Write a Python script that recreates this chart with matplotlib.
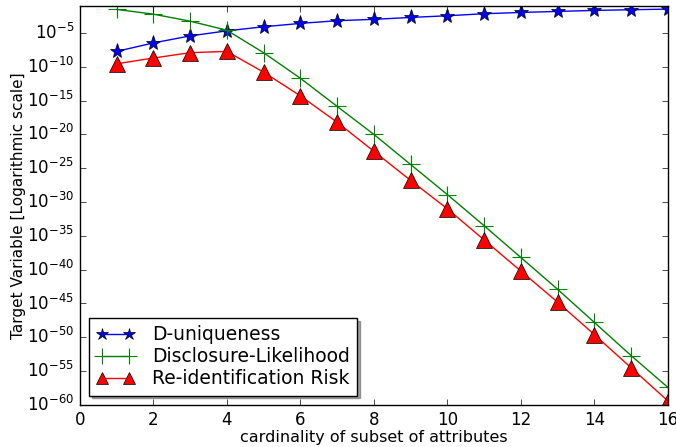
import numpy as np
import matplotlib
matplotlib.use("Agg")
import matplotlib.pyplot as plt

# cardinality of subset of attributes
k = [1, 2, 3, 4, 5, 6, 7, 8, 9, 10, 11, 12, 13, 14, 15, 16]

# log10 of target values
d_uniq_exp = [-7.74, -6.49, -5.45, -4.7, -4.1, -3.6, -3.2, -3.0, -2.72, -2.47,
              -2.17, -1.98, -1.83, -1.68, -1.58, -1.49]
disc_exp = [-1.53, -2.23, -3.27, -4.6, -7.93, -11.7, -15.86, -20.0, -24.45, -28.9,
            -33.5, -38.2, -42.9, -47.8, -52.7, -57.4]
reid_exp = [-9.57, -8.72, -7.93, -7.74, -10.8, -14.3, -18.2, -22.5, -26.8, -31.0,
            -35.6, -40.2, -44.8, -49.6, -54.5, -59.4]

d_uniq = 10.0 ** np.array(d_uniq_exp)
disc = 10.0 ** np.array(disc_exp)
reid = 10.0 ** np.array(reid_exp)

plt.style.use("classic")
fig = plt.figure(figsize=(6.76, 4.47), dpi=100, facecolor="white")
ax = fig.add_axes([0.118, 0.094, 0.870, 0.893])

ax.plot(k, d_uniq, "b-*", markersize=11, label="D-uniqueness")
ax.plot(k, disc, "g-+", markersize=13, markeredgewidth=0.8, label="Disclosure-Likelihood")
ax.plot(k, reid, "r-^", markersize=11, label="Re-identification Risk")

ax.set_yscale("log")
ax.set_xlim(0, 16)
ax.set_ylim(1e-60, 1e-1)
ax.set_yticks([10.0 ** e for e in range(-60, 0, 5)])
ax.yaxis.set_minor_locator(matplotlib.ticker.NullLocator())
ax.set_xticks(range(0, 17, 2))
ax.tick_params(labelsize=12)

ax.set_xlabel("cardinality of subset of attributes", fontsize=11.5, labelpad=1)
ax.set_ylabel("Target Variable [Logarithmic scale]", fontsize=11, labelpad=1)

leg = ax.legend(loc="lower left", numpoints=2, shadow=True, fancybox=False,
                fontsize=13.5, borderaxespad=0.5, handlelength=2.0,
                handletextpad=0.95, labelspacing=0.15, markerscale=0.85)

fig.savefig("out.png", dpi=100, facecolor="white")
